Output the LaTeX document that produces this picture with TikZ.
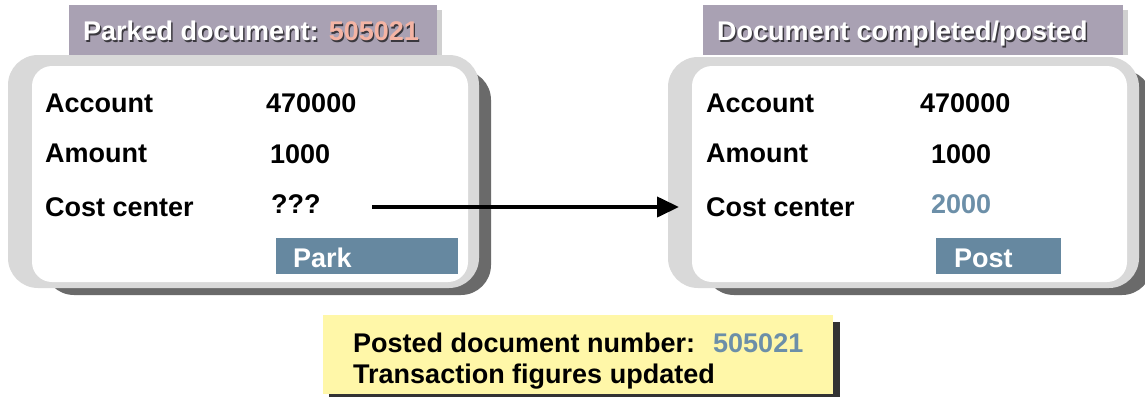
\documentclass[tikz,border=0pt]{standalone}
\usepackage{fontspec}
\setmainfont{Liberation Sans}
\usetikzlibrary{arrows.meta}
\definecolor{frameLight}{HTML}{D9D9D9}
\definecolor{frameDark}{HTML}{6A6A6A}
\definecolor{titleBg}{HTML}{A9A1B3}
\definecolor{titleShadow}{HTML}{D0D0D0}
\definecolor{btnBlue}{HTML}{6688A0}
\definecolor{blueText}{HTML}{6C8FA8}
\definecolor{salmon}{HTML}{F4B4A4}
\definecolor{noteYellow}{HTML}{FFF7A8}
\definecolor{noteShadow}{HTML}{333333}
\tikzset{
  lbl/.style={anchor=base west, inner sep=0pt, font=\bfseries\fontsize{27}{32}\selectfont},
  shadowtxt/.style={lbl, text=black, opacity=0.65},
  titletxt/.style={lbl, text=white},
  arrowline/.style={line width=4pt, -{Triangle[length=22pt,width=20pt]}},
}
\begin{document}
\begin{tikzpicture}[x=1pt,y=-1pt]
\clip (0,0) rectangle (1145,397);
\fill[white] (0,0) rectangle (1145,397);

% ---------- left panel ----------
\fill[frameDark, rounded corners=30] (44,70) rectangle (491,295);
\fill[frameLight, rounded corners=30] (8,55) rectangle (479,288);
\fill[white, rounded corners=20] (32,66) rectangle (468,282);
\fill[titleShadow] (74,10) rectangle (442,55);
\fill[titleBg] (69,5) rectangle (437,55);
\node[shadowtxt] (ltitleS) at (84.3,42) {Parked document: 505021};
\node[titletxt] (ltitle) at (83,40.7) {Parked document: \textcolor{salmon}{505021}};

\node[lbl] (lacc) at (45,112) {Account};
\node[lbl] (laccv) at (266,112) {470000};
\node[lbl] (lamt) at (45,162) {Amount};
\node[lbl] (lamtv) at (270,163) {1000};
\node[lbl] (lcc) at (45,216) {Cost center};
\node[lbl] (lccv) at (271,213) {???};
\fill[btnBlue] (276,238) rectangle (458,274);
\node[lbl, text=white] (park) at (293,267) {Park};

% ---------- right panel ----------
\fill[frameDark, rounded corners=30] (704,70) rectangle (1152,295);
\fill[frameLight, rounded corners=30] (668,57) rectangle (1139,288);
\fill[white, rounded corners=20] (692,66) rectangle (1127,282);
\fill[titleShadow] (708,10) rectangle (1128,55);
\fill[titleBg] (703,5) rectangle (1123,55);
\node[shadowtxt] (rtitleS) at (718.3,42) {Document completed/posted};
\node[titletxt] (rtitle) at (717,40.7) {Document completed/posted};

\node[lbl] (racc) at (706,112) {Account};
\node[lbl] (raccv) at (920,112) {470000};
\node[lbl] (ramt) at (706,162) {Amount};
\node[lbl] (ramtv) at (931,163) {1000};
\node[lbl] (rcc) at (706,216) {Cost center};
\node[lbl, text=blueText] (rccv) at (931,213) {2000};
\fill[btnBlue] (936,238) rectangle (1061,274);
\node[lbl, text=white] (post) at (954,267) {Post};

% ---------- arrow ----------
\coordinate (arrowstart) at (372,207);
\coordinate (arrowend) at (679,207);
\draw[arrowline] (arrowstart) -- (arrowend);

% ---------- note ----------
\fill[noteShadow] (329,322) rectangle (840,397);
\fill[noteYellow] (323,315) rectangle (833,394);
\node[lbl] (note1) at (353,352) {Posted document number:};
\node[lbl, text=blueText] (note1v) at (713,352) {505021};
\node[lbl] (note2) at (353,383) {Transaction figures updated};
\end{tikzpicture}
\end{document}
